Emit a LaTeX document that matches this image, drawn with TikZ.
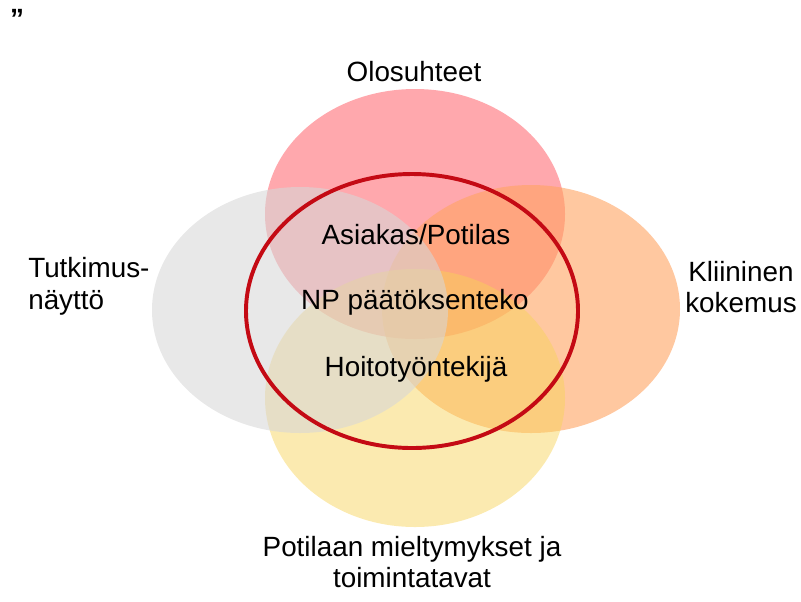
\documentclass[tikz,border=0pt]{standalone}
\usepackage{fontspec}
\setmainfont{Liberation Sans}
\definecolor{cpink}{HTML}{FFA8AD}
\definecolor{corange}{HTML}{FFA361}
\definecolor{cyellow}{HTML}{F7D357}
\definecolor{cgrey}{HTML}{D7D7D7}
\definecolor{cring}{HTML}{C40A14}
\tikzset{
  every picture/.style={font=\fontsize{19.8pt}{22.7pt}\selectfont},
  blob/.style={fill=#1},
  ring/.style={draw=cring, line width=2.8pt},
  lbl/.style={align=center, inner sep=0pt},
}

\begin{document}
\begin{tikzpicture}[x=0.025cm, y=-0.025cm]
  \useasboundingbox (0,0) rectangle (801,601);
  % the four circles
  \fill[blob=cpink] (415,214) ellipse (150 and 125);
  \fill[blob=corange, fill opacity=0.6] (531,309) ellipse (149 and 124);
  \fill[blob=cyellow, fill opacity=0.47] (415,398) ellipse (150 and 129);
  \fill[blob=cgrey, fill opacity=0.575] (300,310) ellipse (148 and 123);
  \draw[ring] (412,311) ellipse (166 and 137);
  % labels
  \node[lbl] (quote) at (17,19) {\bfseries ”};
  \node[lbl] (olo) at (414,72) {Olosuhteet};
  \node[lbl, align=left, anchor=west] (tutk) at (28,286) {Tutkimus-\\näyttö};
  \node[lbl] (klii) at (741,287) {Kliininen\\kokemus};
  \node[lbl] (poti) at (412,562) {Potilaan mieltymykset ja\\toimintatavat};
  \node[lbl] (asiakas) at (416,235) {Asiakas/Potilas};
  \node[lbl] (np) at (415,302) {NP päätöksenteko};
  \node[lbl] (hoito) at (416,369) {Hoitotyöntekijä};
\end{tikzpicture}
\end{document}
